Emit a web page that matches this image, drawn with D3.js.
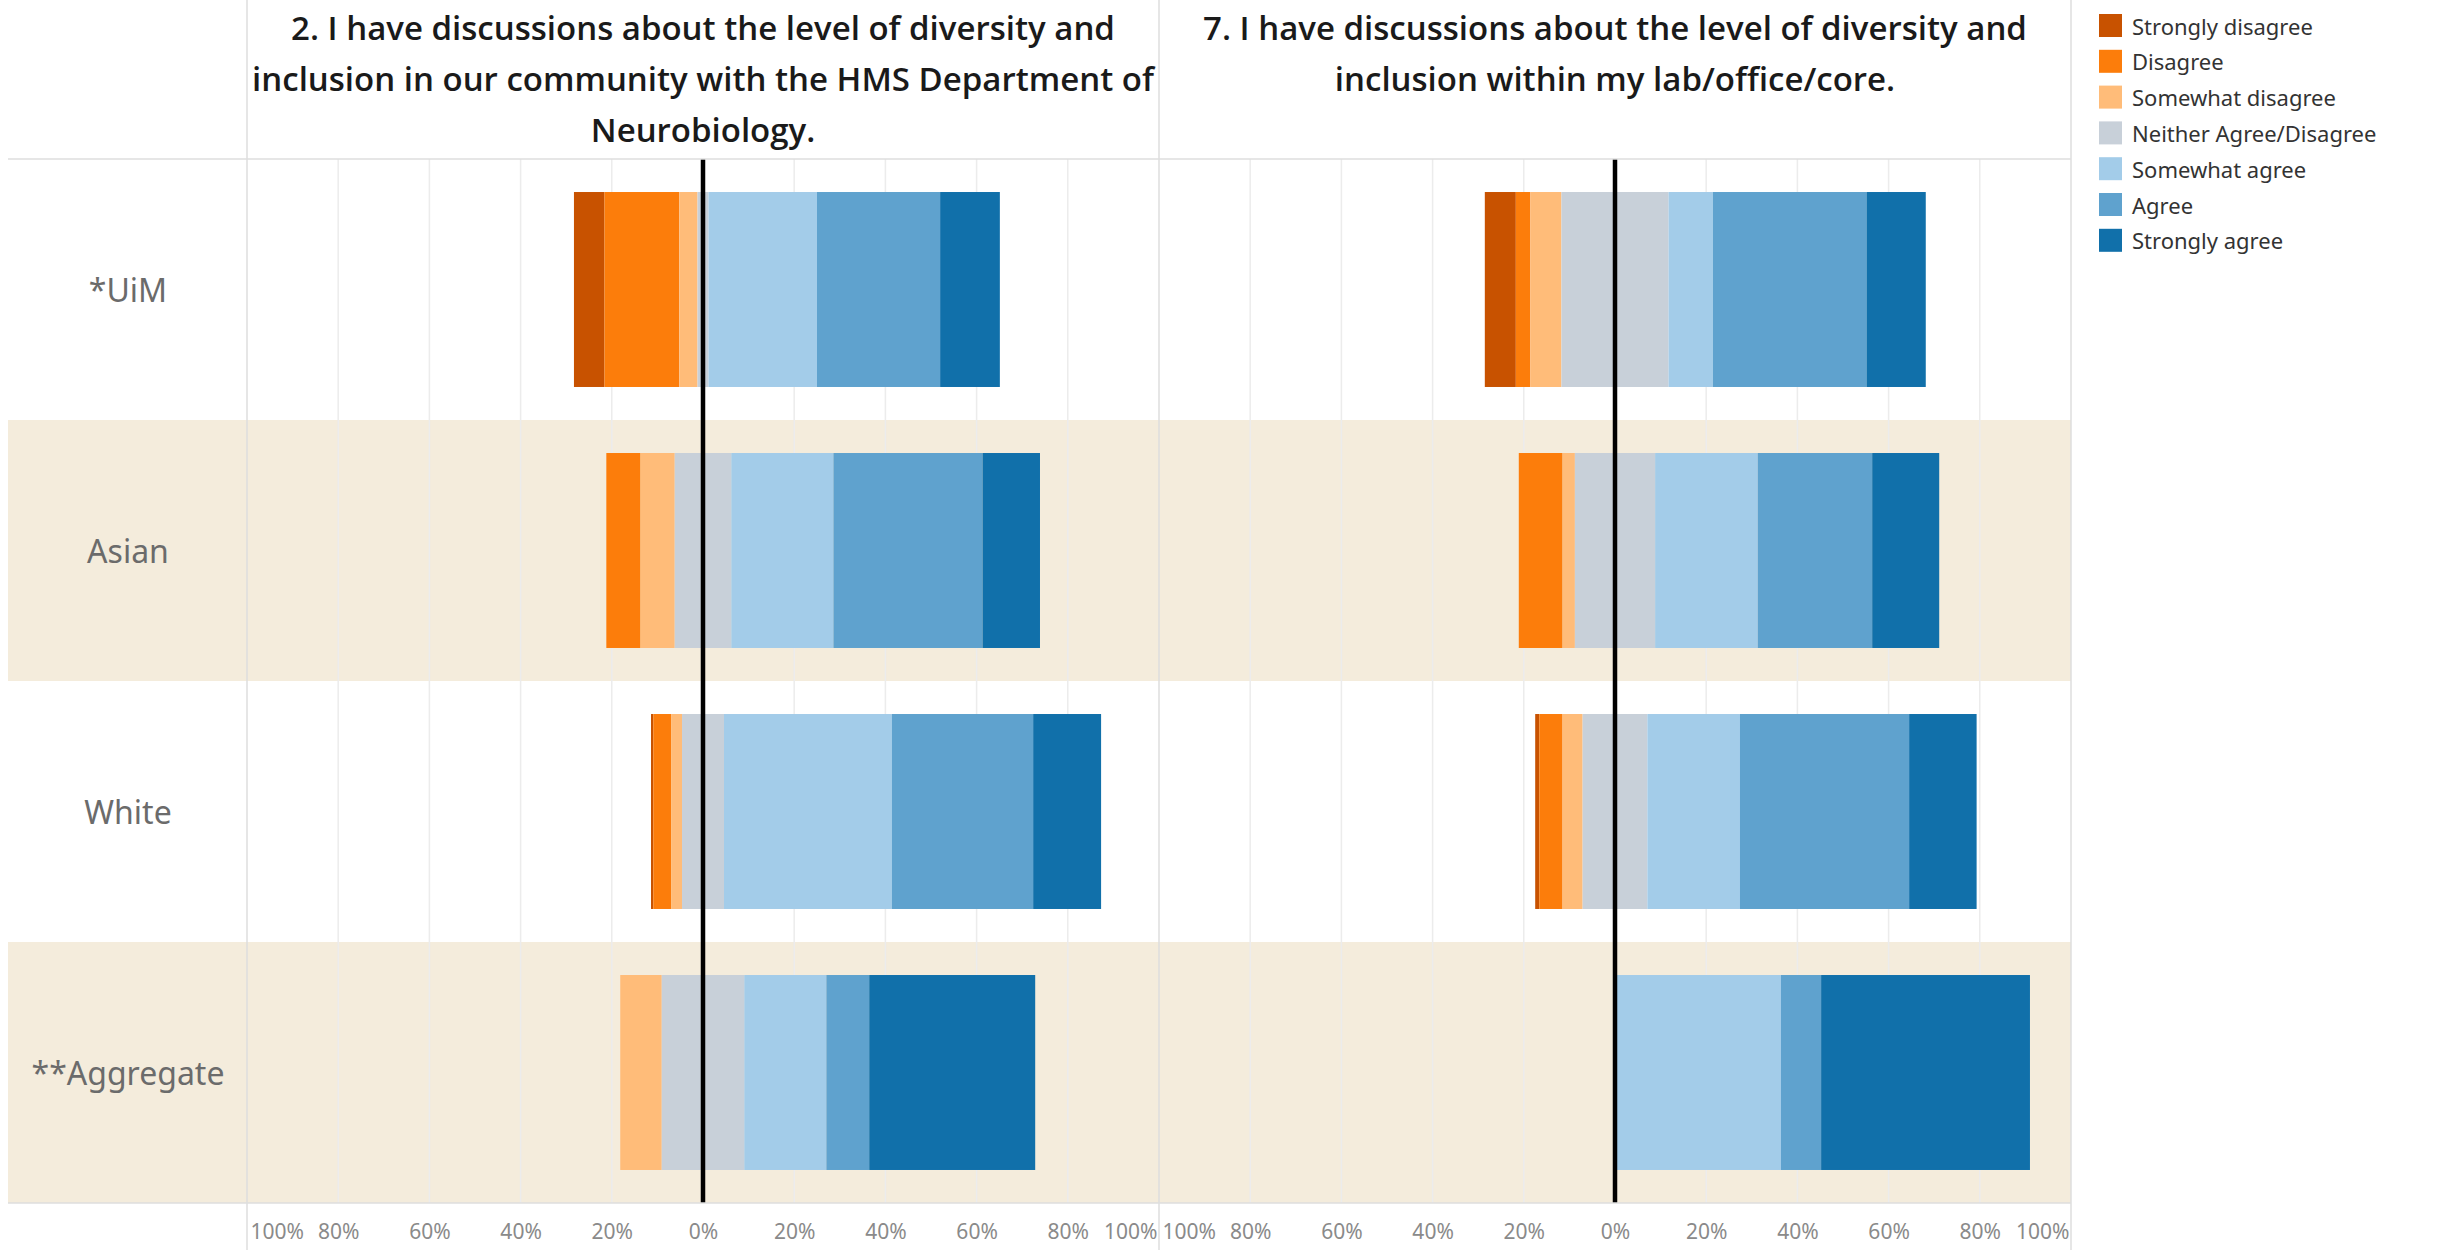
<!DOCTYPE html>
<html>
<head>
<meta charset="utf-8">
<script src="https://cdn.jsdelivr.net/npm/d3@7"></script>
<style>
  html, body { margin: 0; padding: 0; background: #ffffff; }
  svg { display: block; }
</style>
</head>
<body>
<svg id="chart" width="2440" height="1250"></svg>
<script>
// ---------------- DATA ----------------
const categories = ["Strongly disagree", "Disagree", "Somewhat disagree", "Neither Agree/Disagree", "Somewhat agree", "Agree", "Strongly agree"];
const groups = ["*UiM", "Asian", "White", "**Aggregate"];
const categoryColors = ["#c85200", "#fc7d0b", "#ffbc79", "#c8d0d9", "#a3cce9", "#5fa2ce", "#1170aa"];
const q2Title = ["2. I have discussions about the level of diversity and", "inclusion in our community with the HMS Department of", "Neurobiology."];
const q7Title = ["7. I have discussions about the level of diversity and", "inclusion within my lab/office/core."];
// percent of respondents per category, one row per group
const q2Values = [
  [6.7, 16.4, 4.0, 2.4, 23.8, 27.0, 13.1],
  [0, 7.5, 7.5, 12.4, 22.4, 32.7, 12.6],
  [0.5, 3.9, 2.4, 9.2, 36.8, 31.0, 14.9],
  [0, 0, 9.1, 18.1, 18.0, 9.4, 36.4]
];
const q7Values = [
  [6.8, 3.2, 6.8, 23.5, 9.7, 33.7, 13.0],
  [0, 9.6, 2.7, 17.6, 22.5, 25.1, 14.7],
  [0.9, 5.1, 4.4, 14.2, 20.3, 37.1, 14.8],
  [0, 0, 0, 0, 36.4, 8.8, 45.8]
];
const tickValues = [-100, -80, -60, -40, -20, 0, 20, 40, 60, 80, 100];
const tickLabels = ["100%", "80%", "60%", "40%", "20%", "0%", "20%", "40%", "60%", "80%", "100%"];

// ---------------- LAYOUT ----------------
const svg = d3.select("#chart");
const W = 2440, H = 1250;
const labelColX0 = 8;
const panelX = [247, 1159];
const panelW = 912;
const plotTop = 159, plotBottom = 1203;
const bandFill = "#f4ecdc";
const lineColor = "#dedede";

const y = d3.scaleBand().domain(groups).range([plotTop, plotBottom]).paddingInner(0.253).paddingOuter(0.1265);
const step = y.step();
const color = d3.scaleOrdinal().domain(categories).range(categoryColors);

// alternating row bands
groups.forEach((g, i) => {
  if (i % 2 === 1) {
    svg.append("rect")
      .attr("x", labelColX0).attr("y", plotTop + i * step)
      .attr("width", panelX[1] + panelW - labelColX0).attr("height", step)
      .attr("fill", bandFill);
  }
});

// row labels
svg.append("g").selectAll("text").data(groups).join("text")
  .attr("x", 128).attr("y", d => y(d) + y.bandwidth() / 2)
  .attr("text-anchor", "middle").attr("dominant-baseline", "central")
  .attr("font-family", "'Noto Sans', sans-serif").attr("font-size", 32)
  .attr("fill", "#6b6b6b")
  .text(d => d);

function diverge(vals) {
  const start = -(vals[0] + vals[1] + vals[2] + vals[3] / 2);
  let acc = start;
  return vals.map((v, i) => { const s = { i, x0: acc, x1: acc + v }; acc += v; return s; });
}

function drawPanel(px, values, titleLines) {
  const x = d3.scaleLinear().domain([-100, 100]).range([px, px + panelW]);
  const g = svg.append("g");

  // gridlines
  g.append("g").selectAll("line").data(tickValues.filter(t => t !== 0 && Math.abs(t) !== 100)).join("line")
    .attr("x1", d => x(d)).attr("x2", d => x(d))
    .attr("y1", plotTop).attr("y2", plotBottom)
    .attr("stroke", "#ececec").attr("stroke-width", 1.5);

  // bars
  groups.forEach((grp, gi) => {
    const segs = diverge(values[gi]).filter(s => s.x1 - s.x0 > 0);
    g.append("g").selectAll("rect").data(segs).join("rect")
      .attr("x", s => x(s.x0)).attr("width", s => x(s.x1) - x(s.x0))
      .attr("y", y(grp)).attr("height", y.bandwidth())
      .attr("fill", s => color(categories[s.i]));
  });

  // zero line
  g.append("line").attr("x1", x(0)).attr("x2", x(0)).attr("y1", plotTop).attr("y2", plotBottom)
    .attr("stroke", "#000").attr("stroke-width", 4.5);

  // axis
  const axis = d3.axisBottom(x).tickValues(tickValues).tickSize(0).tickPadding(0)
    .tickFormat((d, i) => tickLabels[i]);
  const ax = svg.append("g").attr("transform", `translate(0, ${plotBottom})`).call(axis);
  ax.select(".domain").remove();
  ax.selectAll("text")
    .attr("y", 36)
    .attr("font-family", "'Noto Sans', sans-serif").attr("font-size", 21)
    .attr("fill", "#8a8a8a")
    .attr("dy", "0")
    .attr("text-anchor", (d, i) => i === 0 ? "start" : (i === tickValues.length - 1 ? "end" : "middle"))
    .attr("dx", (d, i) => i === 0 ? 3 : (i === tickValues.length - 1 ? -2 : 0));

  // title
  const cx = px + panelW / 2;
  svg.append("g").selectAll("text").data(titleLines).join("text")
    .attr("x", cx).attr("y", (d, i) => 40 + i * 51)
    .attr("text-anchor", "middle")
    .attr("font-family", "'Open Sans', sans-serif").attr("font-weight", 600)
    .attr("font-size", 33).attr("fill", "#1a1a1a")
    .text(d => d);
}

drawPanel(panelX[0], q2Values, q2Title);
drawPanel(panelX[1], q7Values, q7Title);

// frame lines
const frame = svg.append("g").attr("stroke", lineColor).attr("stroke-width", 1.5);
frame.append("line").attr("x1", labelColX0).attr("x2", panelX[1] + panelW).attr("y1", plotTop).attr("y2", plotTop);
frame.append("line").attr("x1", labelColX0).attr("x2", panelX[1] + panelW).attr("y1", plotBottom).attr("y2", plotBottom);
[panelX[0], panelX[1], panelX[1] + panelW].forEach(xx => {
  frame.append("line").attr("x1", xx).attr("x2", xx).attr("y1", 0).attr("y2", H);
});

// legend
const lg = svg.append("g").attr("transform", "translate(2099, 14)");
const li = lg.selectAll("g").data(categories).join("g")
  .attr("transform", (d, i) => `translate(0, ${i * 35.8})`);
li.append("rect").attr("width", 23).attr("height", 23).attr("fill", d => color(d));
li.append("text").attr("x", 33).attr("y", 11.5).attr("dominant-baseline", "central")
  .attr("font-family", "'Noto Sans', sans-serif").attr("font-size", 22)
  .attr("fill", "#333333").text(d => d);
</script>
</body>
</html>
